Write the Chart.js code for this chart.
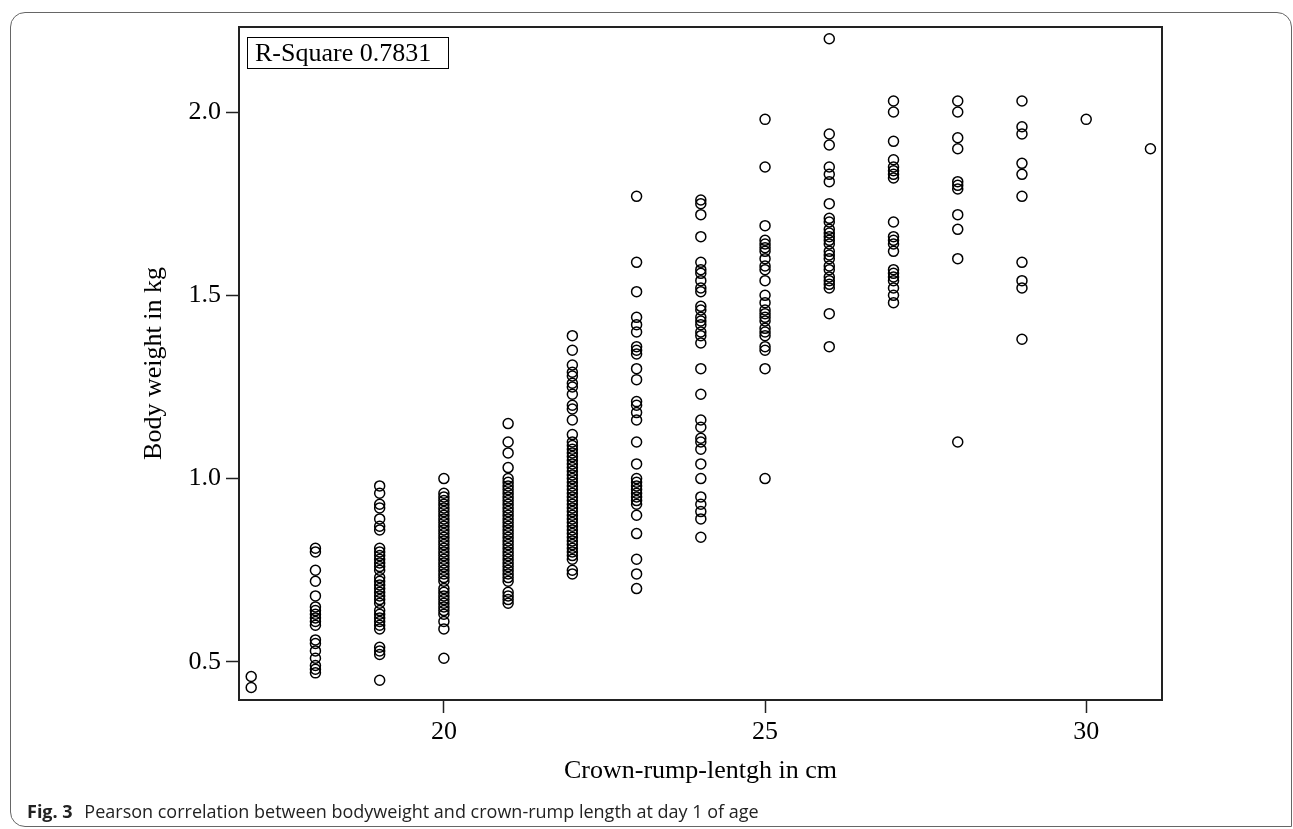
<!DOCTYPE html>
<html>
<head>
<meta charset="utf-8">
<script src="https://cdn.jsdelivr.net/npm/chart.js@4.4.1/dist/chart.umd.min.js"></script>
<style>
  html, body { margin: 0; padding: 0; background: #fff; }
  #wrap { position: relative; width: 1293px; height: 829px; overflow: hidden; }
  #frame {
    position: absolute; left: 10px; top: 12px; width: 1282px; height: 815px;
    border: 1px solid #666; border-radius: 15px 15px 0 15px; box-sizing: border-box;
  }
  #chart { position: absolute; left: 0; top: 0; }
  #rsq {
    position: absolute; left: 247px; top: 37px; width: 202px; height: 32px;
    border: 1.5px solid #000; box-sizing: border-box; padding-left: 7px;
    font: 26px "Liberation Serif", "Times New Roman", serif; line-height: 29px; color: #000;
  }
  #caption {
    position: absolute; left: 27px; top: 800px; white-space: nowrap;
    font: 18px "Open Sans", "Noto Sans", sans-serif; line-height: 22px; color: #222;
  }
  #caption b { font-weight: 700; margin-right: 7px; }
</style>
</head>
<body>
<div id="wrap">
  <div id="frame"></div>
  <canvas id="chart" width="1293" height="829"></canvas>
  <div id="rsq">R-Square 0.7831</div>
  <div id="caption"><b>Fig. 3</b> Pearson correlation between bodyweight and crown-rump length at day 1 of age</div>
</div>
<script>
// crown-rump length (cm) and the body weights (kg) measured at each length
const lengthsCm = [17, 18, 19, 20, 21, 22, 23, 24, 25, 26, 27, 28, 29, 30, 31];

const crl17 = [0.46, 0.43];
const crl18 = [0.81, 0.80, 0.75, 0.72, 0.68, 0.65, 0.64, 0.63, 0.62, 0.61, 0.60, 0.56, 0.55, 0.53, 0.51, 0.49, 0.48, 0.47];
const crl19 = [0.98, 0.96, 0.93, 0.92, 0.89, 0.87, 0.86, 0.81, 0.80, 0.79, 0.78, 0.77, 0.76, 0.75, 0.73, 0.72, 0.71, 0.70, 0.69, 0.68, 0.67, 0.66, 0.64, 0.63, 0.62, 0.61, 0.60, 0.59, 0.54, 0.53, 0.52, 0.45];
const crl20 = [1.00, 0.96, 0.95, 0.94, 0.93, 0.92, 0.91, 0.90, 0.89, 0.88, 0.87, 0.86, 0.85, 0.84, 0.83, 0.82, 0.81, 0.80, 0.79, 0.78, 0.77, 0.76, 0.75, 0.74, 0.73, 0.72, 0.70, 0.69, 0.68, 0.67, 0.66, 0.65, 0.64, 0.63, 0.61, 0.59, 0.51];
const crl21 = [1.15, 1.10, 1.07, 1.03, 1.00, 0.99, 0.98, 0.97, 0.96, 0.95, 0.94, 0.93, 0.92, 0.91, 0.90, 0.89, 0.88, 0.87, 0.86, 0.85, 0.84, 0.83, 0.82, 0.81, 0.80, 0.79, 0.78, 0.77, 0.76, 0.75, 0.74, 0.73, 0.72, 0.69, 0.68, 0.67, 0.66];
const crl22 = [1.39, 1.35, 1.31, 1.29, 1.28, 1.26, 1.25, 1.23, 1.20, 1.19, 1.16, 1.12, 1.10, 1.09, 1.08, 1.07, 1.06, 1.05, 1.04, 1.03, 1.02, 1.01, 1.00, 0.99, 0.98, 0.97, 0.96, 0.95, 0.94, 0.93, 0.92, 0.91, 0.90, 0.89, 0.88, 0.87, 0.86, 0.85, 0.84, 0.83, 0.82, 0.81, 0.80, 0.79, 0.78, 0.75, 0.74];
const crl23 = [1.77, 1.59, 1.51, 1.44, 1.42, 1.40, 1.36, 1.35, 1.34, 1.30, 1.27, 1.21, 1.20, 1.18, 1.16, 1.10, 1.04, 1.00, 0.99, 0.98, 0.97, 0.96, 0.95, 0.94, 0.93, 0.90, 0.85, 0.78, 0.74, 0.70];
const crl24 = [1.76, 1.75, 1.72, 1.66, 1.59, 1.57, 1.56, 1.54, 1.52, 1.51, 1.47, 1.46, 1.44, 1.43, 1.42, 1.40, 1.39, 1.37, 1.30, 1.23, 1.16, 1.14, 1.11, 1.10, 1.08, 1.04, 1.00, 0.95, 0.93, 0.91, 0.89, 0.84];
const crl25 = [1.98, 1.85, 1.69, 1.65, 1.64, 1.63, 1.62, 1.60, 1.58, 1.57, 1.54, 1.50, 1.48, 1.46, 1.45, 1.44, 1.43, 1.41, 1.40, 1.39, 1.36, 1.35, 1.30, 1.00];
const crl26 = [2.20, 1.94, 1.91, 1.85, 1.83, 1.81, 1.75, 1.71, 1.70, 1.68, 1.67, 1.66, 1.65, 1.64, 1.62, 1.61, 1.60, 1.58, 1.57, 1.55, 1.54, 1.53, 1.52, 1.45, 1.36];
const crl27 = [2.03, 2.00, 1.92, 1.87, 1.85, 1.84, 1.83, 1.82, 1.70, 1.66, 1.65, 1.64, 1.62, 1.57, 1.56, 1.55, 1.54, 1.52, 1.50, 1.48];
const crl28 = [2.03, 2.00, 1.93, 1.90, 1.81, 1.80, 1.79, 1.72, 1.68, 1.60, 1.10];
const crl29 = [2.03, 1.96, 1.94, 1.86, 1.83, 1.77, 1.59, 1.54, 1.52, 1.38];
const crl30 = [1.98];
const crl31 = [1.90];

const weightGroups = [crl17, crl18, crl19, crl20, crl21, crl22, crl23, crl24, crl25, crl26, crl27, crl28, crl29, crl30, crl31];

const xTicks = [20, 25, 30];
const yTicks = [0.5, 1.0, 1.5, 2.0];

const points = lengthsCm.flatMap((len, i) => weightGroups[i].map(w => ({ x: len, y: w })));

const serif = '"Liberation Serif", "Times New Roman", serif';

// full box round the plot area
const plotBox = {
  id: 'plotBox',
  afterDraw(chart) {
    const { ctx, chartArea: a } = chart;
    ctx.save();
    ctx.strokeStyle = '#222';
    ctx.lineWidth = 2;
    ctx.strokeRect(a.left, a.top, a.right - a.left, a.bottom - a.top);
    ctx.restore();
  }
};

const ctx = document.getElementById('chart').getContext('2d');
new Chart(ctx, {
  type: 'scatter',
  data: {
    datasets: [{
      data: points,
      pointStyle: 'circle',
      pointRadius: 5,
      pointHoverRadius: 5,
      pointBorderWidth: 1.5,
      pointBorderColor: '#000',
      pointBackgroundColor: 'rgba(0,0,0,0)',
    }]
  },
  options: {
    responsive: false,
    animation: false,
    devicePixelRatio: 1,
    layout: { padding: { top: 27, right: 131, left: 0, bottom: 0 } },
    plugins: {
      legend: { display: false },
      tooltip: { enabled: false }
    },
    scales: {
      x: {
        type: 'linear',
        min: 16.81,
        max: 31.18,
        afterFit: s => { s.height = 129; },
        afterBuildTicks: s => { s.ticks = xTicks.map(v => ({ value: v })); },
        grid: { drawOnChartArea: false, drawTicks: true, tickLength: 13, tickWidth: 1.5, tickColor: '#222' },
        border: { display: true, color: '#222', width: 2 },
        ticks: {
          color: '#000', padding: 4, maxRotation: 0,
          font: { family: serif, size: 26 },
          callback: v => String(v)
        },
        title: {
          display: true,
          text: 'Crown-rump-lentgh in cm',
          color: '#000',
          font: { family: serif, size: 26 },
          padding: { top: 0, bottom: 42 }
        }
      },
      y: {
        type: 'linear',
        min: 0.396,
        max: 2.232,
        afterFit: s => { s.width = 239; },
        afterBuildTicks: s => { s.ticks = yTicks.map(v => ({ value: v })); },
        grid: { drawOnChartArea: false, drawTicks: true, tickLength: 13, tickWidth: 1.5, tickColor: '#222' },
        border: { display: true, color: '#222', width: 2 },
        ticks: {
          color: '#000', padding: 5,
          font: { family: serif, size: 26 },
          callback: v => Number(v).toFixed(1)
        },
        title: {
          display: true,
          text: 'Body weight in kg',
          color: '#000',
          font: { family: serif, size: 26 },
          padding: { top: 139, bottom: 0 }
        }
      }
    }
  },
  plugins: [plotBox]
});
</script>
</body>
</html>
